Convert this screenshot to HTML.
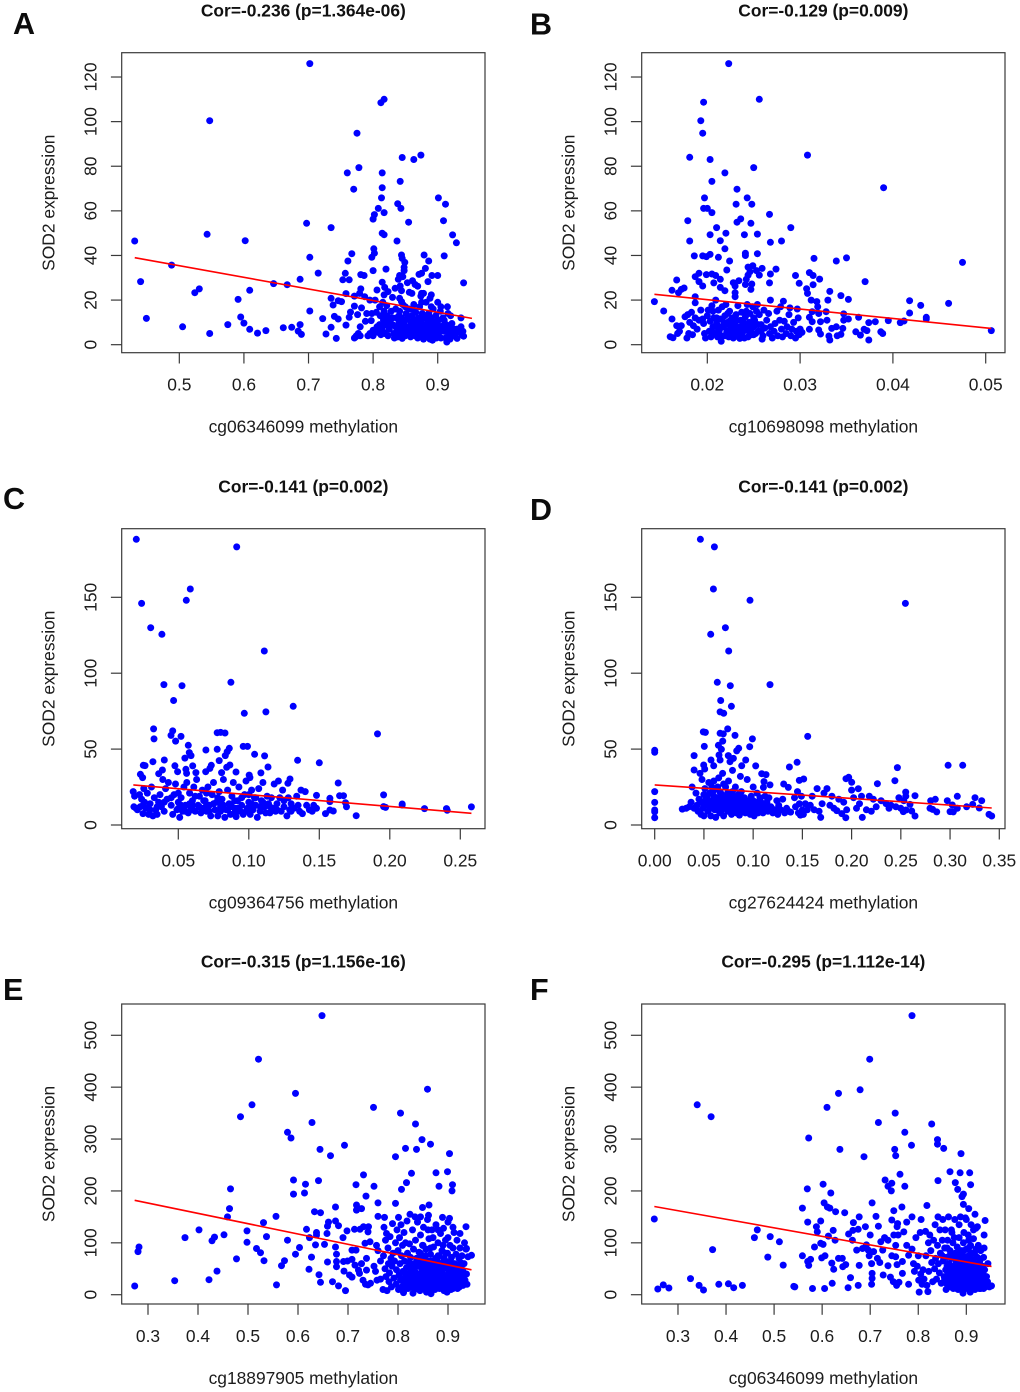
<!DOCTYPE html>
<html lang="en">
<head>
<meta charset="utf-8">
<title>SOD2 expression vs methylation</title>
<style>
html,body{margin:0;padding:0;background:#fff;}
#figure{display:block;width:1020px;height:1392px;font-family:"Liberation Sans",Arial,sans-serif;}
#figure text{fill:#1c1c1c;font-size:17.4px;}
#figure text.title{font-weight:bold;fill:#111;}
#figure text.letter{font-weight:bold;font-size:30.5px;fill:#0c0c0c;}
</style>
</head>
<body>
<svg id="figure" xmlns="http://www.w3.org/2000/svg" width="1020" height="1392" viewBox="0 0 1020 1392"></svg>
<script>
const pointsA=[[.431,46.5],[.44,28.3],[.449,11.8],[.488,35.7],[.505,8],[.524,23.3],[.531,25],[.543,49.5],[.547,100.4],[.547,5],[.575,9],[.591,20.3],[.595,12.4],[.6,9.7],[.602,46.6],[.609,24.4],[.609,6.9],[.621,5.2],[.634,6.3],[.646,27.4],[.661,7.6],[.667,26.9],[.674,7.8],[.684,6.1],[.687,29.3],[.687,9],[.689,4.6],[.697,54.4],[.702,126],[.702,39.2],[.702,15.1],[.715,32.1],[.722,11.7],[.727,4.8],[.735,52.5],[.735,7.8],[.735,20.8],[.738,17.8],[.74,12.7],[.743,2.8],[.746,11.5],[.746,19.7],[.751,19.3],[.753,29.1],[.757,32],[.758,8.8],[.758,22.9],[.76,77],[.761,37.5],[.763,29.1],[.763,12.3],[.765,14.6],[.767,40.8],[.77,69.7],[.771,17.3],[.771,21.8],[.775,94.8],[.778,79.4],
[.801,43],[.802,41],[.798,39.2],[.8,33.2],[.8,56.3],[.802,58.3],[.808,61.1],[.813,65.8],[.814,70.4],[.814,77],[.812,108.5],[.817,110],[.817,59.2],[.814,50],[.817,49.3],[.82,33.9],[.837,46.5],[.838,63.2],[.843,61.1],[.842,73.2],[.845,83.9],[.863,83],[.874,85],[.855,54.9],[.844,40.2],[.845,38.7],[.849,36.9],[.848,34.7],[.848,33.2],[.879,40.2],[.886,37.5],[.881,34.2],[.875,32],[.871,31.5],[.891,31],[.9,31],[.901,65.8],[.912,63],[.909,55.6],[.923,49.2],[.929,45.7],[.91,39.8],[.94,27.7],[.936,12],[.953,8.5],[.885,28.3],
[.781,31.4],[.786,31],[.781,25],[.779,23],[.787,21.5],[.795,20],[.806,24.5],[.814,28],[.818,25.7],[.823,23.8],[.817,22.3],[.83,21.2],[.834,25.3],[.841,31],[.839,29.3],[.846,30.5],[.842,26.3],[.844,24.2],[.853,27.8],[.861,28.7],[.865,27],[.869,26.2],[.856,23.5],[.86,23],[.875,23],[.878,23],[.874,21.8],[.89,22.3],[.888,20.8],[.841,20.8],[.844,19.3],
[.771,3],[.774,4],[.777,5],[.773,3.5],[.78,4],[.776,13.5],[.78,8],[.782,16.5],[.788,10.5],[.79,14],[.792,4],[.795,5],[.797,10.8],[.798,14],[.8,6.5],[.8,4],[.803,20],[.805,14.5],[.806,8],[.808,5.5],[.81,17],[.811,13],[.812,4.5],[.814,7.5],[.815,19],[.816,11],[.817,15],[.818,5],[.82,9],[.821,17.5],[.822,13],[.823,4],[.825,7],[.826,11],[.828,15],[.83,9],[.832,5],[.833,3],[.835,16],[.836,12],[.837,7],[.838,3.5],[.84,10],[.841,15],[.842,5.5],[.843,8],[.844,12],[.845,2.8],[.846,18],[.847,6],[.848,10],[.85,4],[.851,14],[.852,8],[.853,11.5],[.855,5],[.856,16],[.857,7],[.858,3.5],[.859,10],[.86,13],[.861,5],[.862,8.5],[.863,18],[.864,11],[.865,4],[.866,14.5],[.867,7],[.868,9.5],[.869,3],[.87,12],[.871,5.5],[.872,17],[.873,8],[.874,10.5],[.875,4],[.876,14],[.877,6.5],[.878,2.5],[.879,9],[.88,12],[.881,5],[.882,19],[.883,7.5],[.884,3.5],[.885,10],[.886,14],[.887,6],[.888,2.5],[.889,8.5],[.89,12],[.891,4.5],[.892,2],[.893,16],[.894,7],[.895,10],[.896,5],[.897,13],[.898,3],[.899,8],[.9,19],[.901,11],[.902,5.5],[.904,15],[.905,3],[.906,8],[.908,12],[.91,6],[.912,3],[.913,9],[.914,1.2],[.915,17],[.916,14],[.917,5],[.919,2.5],[.92,8],[.922,9.5],[.925,4],[.928,5],[.93,2.8],[.933,6.5],[.936,8],[.938,4.5],[.94,3.8],[.939,6],
[.81,9],[.815,6],[.82,13],[.825,10],[.83,12],[.835,8],[.84,6],[.845,9],[.85,11],[.855,8],[.86,7],[.865,9],[.87,7],[.875,9],[.88,7],[.885,6],[.89,8],[.895,7],[.9,9],[.905,6],[.91,9],[.915,7],[.92,5],[.925,7],[.93,7],[.85,7],[.84,13],[.86,10],[.87,4],[.88,4],[.89,10],[.9,5],[.91,11],[.86,16],[.875,19],[.89,17],[.905,17],[.92,13],[.85,17]];
const pointsB=[[.0143,19.3],[.0153,15.1],[.0162,11.5],[.016,3.6],[.0163,3.1],[.0162,24.4],[.0167,29],[.0169,23.3],[.0172,24.8],[.0175,25.4],[.0179,55.6],[.0181,84],[.0181,46.5],[.0186,39.8],[.0187,30.5],[.0187,21.5],[.0187,18.8],[.0191,32],[.0191,28.3],[.0193,100.4],[.0195,94.8],[.0196,108.7],[.0197,65.8],[.0196,61.1],[.02,61.1],[.0195,26.3],[.0195,39.8],[.0199,39.5],[.0199,31.4],[.0203,40.5],[.0203,49.3],[.0203,83],[.0205,73.2],[.0205,59.2],[.0205,31.7],[.0209,31],[.0207,27.7],[.021,52.5],[.0214,46.6],[.0212,39.2],[.0214,29.3],[.0214,25.7],[.0219,77],[.022,50],[.0219,43],[.0221,33.5],[.0223,126],[.0219,24.2],[.0224,37.5],[.0232,69.7],[.0231,63],[.0232,54.9],[.0236,56.4],[.0228,27.8],[.023,26.3],[.0234,28.7],[.023,23.3],[.023,21.5],[.024,49.3],[.0241,41],[.0241,40],[.0243,65.8],[.0248,63],[.0247,54.4],[.0244,34.8],[.0249,35.4],[.0246,32.7],[.0244,31.2],[.0242,29.3],[.0241,27],[.0248,27.2],[.0247,24.8],[.025,79.4],[.0254,49.6],[.0254,40.8],[.0256,110],[.0253,33.2],[.0256,31.2],[.0259,34.2],[.0267,58.4],[.0268,45.9],[.0274,33.9],[.028,46.5],[.0268,31.7],[.0267,27.7],[.0268,20],[.029,52.5],[.0295,31],[.0299,27.5],[.0308,85],[.0307,25.1],[.0308,23],[.031,32.3],[.0314,31],[.0314,26.9],[.0315,38.7],[.0321,29.4],[.0312,20],[.0318,19.3],[.0332,23.9],[.033,20],[.0344,22],[.0339,37.5],[.035,38.9],[.0352,20.3],[.037,28.3],[.039,70.4],[.0418,19.7],[.0418,14.2],[.043,17.6],[.0436,12.3],[.0436,11.5],[.046,18.5],[.0475,36.9],[.0506,6.3],
[.0363,12.3],[.0352,11.5],[.0347,11],[.0347,13.8],[.036,5.8],[.0365,4.3],[.0369,6.9],[.0372,6.3],[.0374,2.1],[.0374,9.9],[.0381,10.3],[.0387,5.8],[.0389,5],[.0395,10.8],[.0408,9.9],[.0412,10.6],[.0332,2.1],[.0331,3.9],[.0334,7.3],[.0339,8],[.034,4],[.0344,4.6],[.0346,7.3],[.032,6.6],[.0322,4.8],[.031,6.9],[.0329,11],[.0322,10.3],[.0328,14.8],[.032,14],[.0313,14.8],[.0319,17],[.031,12.3],[.0313,10.3],
[.0167,8.5],[.017,6],[.0172,8.5],[.0168,5],[.0176,12.5],[.0178,3],[.0179,13.5],[.018,5],[.0181,10],[.0183,14.5],[.0184,4.5],[.0185,8.5],[.0187,12],[.0189,7],[.0191,11],[.0193,15.5],[.0195,11.5],[.0196,9.5],[.0197,5],[.0198,3],[.02,13],[.0201,15.5],[.0202,6],[.0203,10.5],[.0204,3.5],[.0205,17.5],[.0206,8],[.0207,12],[.0208,5],[.0209,20],[.021,9.5],[.0211,3.5],[.0212,15.5],[.0213,6.5],[.0214,11.5],[.0215,1.5],[.0216,17],[.0217,8],[.0218,4],[.0219,13],[.022,18],[.0221,6],[.0222,10],[.0223,3.5],[.0224,15],[.0225,8],[.0226,5],[.0227,12],[.0228,3],[.0229,6.5],[.023,10],[.0231,13.5],[.0232,4],[.0233,17.5],[.0234,7.5],[.0235,2.8],[.0236,11],[.0237,14.5],[.0238,5.5],[.0239,9],[.024,3],[.0241,12.5],[.0242,6.5],[.0243,18],[.0244,3.5],[.0245,10],[.0246,14],[.0247,7],[.0248,4.5],[.0249,17],[.025,8],[.0251,11],[.0252,5],[.0253,15],[.0254,18],[.0255,6],[.0256,13.5],[.0258,9],[.0259,2.5],[.026,4],[.0261,15.5],[.0262,7.5],[.0264,11],[.0266,14],[.0267,5],[.0268,8],[.027,3],[.0272,6],[.0273,9.5],[.0275,15],[.0276,4],[.0278,11],[.0279,17],[.028,7],[.0281,3.5],[.0282,19.5],[.0283,10.5],[.0285,5],[.0286,8],[.0288,13.5],[.0289,16.5],[.029,4],[.0291,7],[.0293,10],[.0295,3],[.0296,6],[.0297,16],[.0298,12],[.0299,4.5],[.03,7],[.0302,5.5],
[.0205,6],[.021,5],[.0215,8],[.022,9],[.0225,11],[.023,6],[.0235,8],[.024,7],[.0245,6],[.025,4.5],[.0255,9],[.021,12],[.0215,4],[.022,4],[.0225,6],[.023,8],[.0235,5],[.024,9.5],[.0245,8],[.025,12],[.0212,7],[.0218,10],[.0228,9],[.0238,11],[.0248,10],[.0258,6],[.0222,14],[.0232,11],[.0242,15],[.0206,15]];
const pointsC=[[.0202,188.2],[.024,146],[.0304,130],[.0384,125.6],[.0557,148],[.0585,155.5],[.0914,183.2],[.111,114.6],[.0873,94],[.0398,92.5],[.0526,91.8],[.0467,82],[.1315,78.2],[.0968,73.6],[.1121,74.5],[.0325,63.3],[.0328,56.7],[.046,62],[.0448,59],[.0519,58.4],[.0481,55.3],[.0776,60.8],[.08,61],[.0831,60.6],[.1913,60],[.0571,52.5],[.0578,47.7],[.059,45.7],[.0547,44.1],[.0696,49.4],[.0776,49.9],[.0862,50.5],[.0847,48.3],[.0833,45.7],[.096,51.8],[.0991,51.8],[.1041,46.6],[.1112,45.5],[.1346,42.6],[.15,41],[.0401,42.8],[.032,41.7],[.0252,39.3],[.0264,39.1],[.079,42.4],[.0476,39],[.0734,39.3],[.0724,37.3],[.0602,38.9],[.0866,39.5],[.0843,38],[.1136,38.2],[.0387,36.2],[.0361,33.8],[.0231,33.4],[.0247,31.2],[.0495,35.1],[.0554,36.7],[.0559,34],[.0625,34.5],[.0694,35.1],[.0807,34.5],[.0909,34.9],[.1086,34.3],[.1003,32.9],[.1008,31.2],[.1292,30.3],[.1277,27.5],[.1634,27.7],
[.1693,12],[.1686,14.7],[.1644,19.3],[.1672,19.3],[.1575,17.6],[.1575,15.4],[.148,19.5],[.1575,9.9],[.1544,7.5],[.1599,9.2],[.1762,6.1],[.1956,19.8],[.1956,12.1],[.197,11.6],[.2088,13.8],[.2088,13.2],[.2246,10.8],[.2402,10.8],[.2407,9.7],[.2579,11.9],
[.018,22],[.0185,12],[.019,19],[.02,11],[.021,10],[.0225,20],[.023,12],[.024,17],[.025,7.5],[.0255,24],[.026,15],[.027,11],[.028,21],[.029,7],[.03,14],[.031,25],[.032,6],[.033,18],[.034,10],[.035,7],[.036,15],[.037,20],[.038,12],[.039,30],[.04,9],[.041,24],[.042,17],[.043,28],[.045,13],[.046,7],[.047,20],[.048,27],[.049,10],[.05,15],[.051,5],[.052,18],[.053,9],[.054,25],[.055,13],[.056,28],[.057,8],[.058,21],[.059,11],[.06,16],[.061,25],[.062,9],[.063,30],[.064,13],[.065,19],[.066,8],[.067,23],[.068,11],[.069,16],[.07,9],[.071,25],[.072,13],[.073,6],[.074,20],[.075,28],[.076,10],[.077,15],[.078,6],[.079,22],[.08,12],[.081,17],[.082,30],[.083,5],[.084,10],[.085,23],[.086,14],[.087,7],[.088,19],[.089,28],[.09,11],[.091,5.5],[.092,16],[.093,25],[.094,9],[.095,13],[.096,7],[.097,20],[.098,29],[.099,11],[.1,15],[.101,7],[.102,23],[.103,10],[.104,18],[.105,13],[.106,5],[.107,24],[.108,9],[.109,16],[.11,28],[.111,12],[.112,8],[.113,19],[.114,14],[.115,8],[.116,18],[.117,11],[.118,27],[.119,9],[.12,14],[.121,29],[.122,18],[.123,9],[.124,23],[.125,12],[.127,6],[.128,18],[.129,10],[.13,14],[.132,11],[.134,19],[.135,13],[.136,9],[.137,23],[.138,7.5],[.14,22],[.141,13],[.143,10],[.145,9],[.146,13],[.148,11],
[.025,13],[.03,10],[.035,12],[.04,15],[.045,18],[.05,11],[.052,13],[.055,9],[.058,14],[.06,10],[.062,19],[.065,12],[.068,16],[.07,21],[.072,9],[.075,14],[.078,18],[.08,9],[.082,13],[.085,10],[.088,12],[.09,16],[.092,11],[.095,18],[.098,9],[.1,11],[.102,14],[.105,18],[.108,12],[.11,15],[.115,12],[.12,10],[.125,16],[.13,9],[.06,13],[.07,13],[.08,15],[.09,8],[.1,20],[.05,21]];
const pointsD=[[0,49.2],[0,47.9],[0,22],[0,14.9],[0,9.9],[0,8.6],[0,4.8],[.0464,188.2],[.0606,183.2],[.0596,155.5],[.0968,148],[.2546,146],[.0718,130],[.0569,125.6],[.0752,114.6],[.0636,94],[.0768,91.8],[.1171,92.5],[.067,82],[.0779,78.2],[.0664,74.5],[.0701,73.6],[.0741,63.3],[.0494,61.3],[.0515,61],[.0664,60.4],[.0697,60],[.0816,59],[.1554,58.4],[.0992,56.7],[.0691,55.3],[.0504,51.8],[.0647,52.5],[.0677,49.9],[.0965,51.6],[.0853,50.5],[.0833,48.8],[.04,45.7],[.0572,42.8],[.0653,46.1],[.0664,42.8],[.0748,45.7],[.0799,43.9],[.0765,41.7],[.0924,42.8],[.1446,41.3],[.1368,38.2],[.1026,38.9],[.0884,39],[.0599,39],[.0498,39.5],[.04,36.2],[.0508,36.9],[.2465,37.8],[.298,39.3],[.3128,39.3],[.244,29.2],
[.2262,27.2],[.1943,30.5],[.197,31.4],[.2001,28.1],[.2068,23.9],[.1513,30.3],[.1469,29.4],[.131,27],[.1357,24.8],[.1087,33.8],[.1131,33.2],[.111,28.6],[.1171,26.4],[.1104,24.8],[.2549,21.7],[.2644,19.3],[.3074,18.9],[.3253,18],[.3321,16],[.285,16.9],[.2803,16],[.2972,16],
[.2644,5.9],[.261,9.2],[.2552,9.9],[.2525,8.8],[.2593,13.6],[.2796,11],[.2823,10.3],[.2864,8.6],[.3,8.8],[.3033,8.6],[.3023,13.2],[.3074,11],[.3168,12],[.323,13.6],[.3297,11.2],[.3395,7],[.3423,5.9],[.2109,5],[.1941,4.8],[.1686,5],
[.028,10.5],[.032,11],[.035,12],[.037,15],[.038,25],[.04,11],[.042,21],[.043,13],[.044,9],[.045,17],[.046,34],[.047,7],[.048,30],[.049,11],[.05,6],[.051,24],[.052,14],[.053,19],[.054,9],[.055,28],[.056,12],[.057,6],[.058,16],[.059,22],[.06,29],[.061,10],[.062,5],[.063,18],[.064,13],[.065,31],[.066,8],[.067,21],[.068,15],[.069,34],[.07,6],[.071,11],[.072,25],[.073,17],[.074,9],[.075,29],[.076,13],[.077,20],[.078,7],[.079,36],[.08,11],[.081,16],[.082,25],[.083,8],[.084,19],[.085,13],[.086,6.5],[.087,32],[.088,22],[.089,10],[.09,14],[.091,18],[.092,8],[.093,12],[.094,30],[.095,16],[.096,10],[.097,7],[.098,19],[.099,13],[.1,25],[.101,6],[.102,10],[.103,15],[.104,21],[.105,8],[.106,12],[.107,18],[.108,10],[.109,14],[.11,8],[.112,19],[.113,11],[.114,15],[.115,9],[.116,18],[.118,12],[.12,8],[.122,10],[.124,16],[.125,7],[.126,13],[.128,10],[.13,17],[.132,8],[.134,11],[.136,9],[.138,8.5],
[.142,18],[.143,12],[.145,22],[.146,8],[.147,14],[.148,6.5],[.149,19],[.15,10],[.151,7],[.153,14],[.155,10],[.158,13],[.16,19],[.162,10],[.165,24],[.167,9],[.17,14],[.172,21],[.175,24],[.178,13],[.18,19],[.182,11],[.185,9.5],[.187,17],[.19,7.5],[.192,15],[.195,10],[.2,23],[.202,18],[.205,11],[.208,14],[.21,19],[.215,10],[.218,19],[.22,9],[.222,17],[.225,12],[.23,16],[.235,14],[.238,11],[.24,13],[.245,12],[.248,18],[.25,11],[.253,16],[.255,19],
[.05,13],[.052,18],[.055,16],[.056,21],[.058,11],[.06,14],[.06,19],[.062,24],[.063,12],[.065,16],[.066,22],[.068,10],[.068,18],[.07,13],[.07,19],[.072,16],[.073,11],[.074,21],[.075,15],[.076,9],[.077,17],[.078,12],[.079,22],[.08,15],[.081,10],[.082,19],[.083,13],[.085,16],[.086,21],[.087,11],[.088,15],[.09,18],[.09,11],[.092,14],[.093,9],[.095,12],[.096,15],[.098,10],[.1,16],[.102,12],[.104,14],[.106,9],[.108,15],[.11,12],[.048,15],[.05,20],[.054,13],[.058,25],[.064,25],[.07,27]];
const pointsE=[[.2733,16.7],[.28,83],[.282,92],[.3533,27],[.374,110],[.402,125],[.422,29],[.428,104],[.433,111],[.438,45.6],[.452,115.5],[.459,150],[.463,166],[.465,204],[.477,69],[.485,343],[.498,123],[.498,101],[.508,366],[.517,89],[.521,454],[.525,81],[.531,139],[.532,65.5],[.537,112],[.556,151],[.557,19],[.567,56],[.573,65.5],[.579,105],[.579,313],[.586,302],[.591,221],[.591,194],[.595,388],[.595,78],[.603,91],[.613,196],[.615,213],[.617,126],[.622,49],[.623,110],[.627,72.5],[.628,332],[.633,160],[.635,96],[.637,120],[.637,115],[.641,220],[.642,38.5],[.644,280],[.645,158],[.645,24],[.648,538],[.653,97],[.659,63],[.658,118],[.659,132],[.661,140],[.665,268],[.669,25],[.675,169],[.675,142],[.675,92],[.677,78],[.677,54],[.677,64],[.681,133],[.681,17],[.69,110],[.693,288],[.692,45.6],[.695,8],[.698,123],[.691,64],[.699,65],[.703,38],[.708,34],[.708,86],[.708,68],[.713,126],[.716,212],[.717,173],[.717,163],[.716,86],[.714,57],[.721,47.5],[.723,41],[.727,166],[.724,126],[.731,131],[.731,231],[.736,190],[.741,131],[.74,121],[.727,60],[.737,70],[.737,47.5],[.734,99],[.744,102],[.751,361],[.752,209],[.76,177],[.76,151],[.773,149],[.795,266],[.805,350],[.795,176],[.815,282],[.807,203],[.817,216],[.827,234],[.837,280],[.835,329],[.848,299],[.859,396],[.865,290],[.876,235],[.899,237],[.903,272],[.882,209],[.909,212],[.908,200],[.849,168],[.862,173],[.789,137],[.801,149],[.824,155],[.834,150],[.845,150],[.861,153],[.889,149],[.903,147],[.936,131],[.924,118],[.947,76],[.937,89],
[.73,28],[.735,20],[.74,19],[.745,22],[.752,55],[.755,45],[.757,95],[.758,28],[.76,85],[.765,65],[.765,30],[.77,10],[.771,75],[.772,130],[.774,50],[.775,105],[.776,35],[.777,118],[.778,8],[.78,90],[.781,60],[.782,25],[.783,42],[.784,112],[.786,70],[.787,15],[.788,55],[.79,80],[.792,32],[.793,65],[.795,100],[.796,20],[.797,48],[.798,125],[.8,85],[.801,10],[.802,38],[.803,110],[.804,60],[.805,28],[.806,135],[.807,75],[.808,15],[.809,95],[.81,45],[.811,4],[.812,120],[.813,65],[.814,33],[.815,100],[.816,20],[.817,52],[.818,142],[.819,80],[.82,12],[.821,40],[.822,62],[.823,98],[.824,28],[.825,72],[.826,18],[.827,50],[.828,35],[.829,125],[.83,3],[.831,88],[.832,60],[.833,22],[.834,44],[.835,105],[.836,12],[.837,70],[.838,32],[.839,140],[.84,55],[.841,20],[.842,82],[.843,40],[.844,8],[.845,115],[.846,62],[.847,28],[.848,48],[.849,95],[.85,15],[.851,130],[.852,72],[.853,35],[.854,55],[.855,22],[.856,88],[.857,5],[.858,42],[.859,145],[.86,65],[.861,30],[.862,108],[.863,12],[.864,50],[.865,78],[.866,2],[.867,38],[.868,125],[.869,20],[.87,60],[.871,92],[.872,28],[.873,45],[.874,10],[.875,70],[.876,135],[.877,35],[.878,18],[.879,55],[.88,100],[.881,25],[.882,75],[.883,12],[.884,42],[.885,118],[.886,60],[.887,30],[.888,85],[.889,18],[.89,50],[.891,128],[.892,8],[.893,68],[.894,36],[.895,105],[.896,22],[.897,52],[.898,5],[.899,80],[.9,140],[.901,30],[.902,62],[.903,15],[.904,95],[.905,42],[.906,22],[.907,72],[.908,12],[.909,52],[.91,90],[.911,32],[.912,120],[.913,60],[.914,18],[.915,42],[.916,78],[.917,25],[.918,105],[.919,12],[.92,55],[.921,35],[.922,70],[.923,15],[.924,90],[.925,28],[.927,50],[.928,75],[.929,35],[.93,18],[.932,60],[.933,100],[.934,28],[.936,88],[.937,40],[.938,20],[.94,73],
[.812,25],[.818,38],[.823,17],[.829,52],[.834,30],[.839,11],[.843,64],[.846,42],[.85,25],[.853,50],[.856,12],[.859,30],[.862,55],[.864,20],[.866,65],[.869,42],[.871,12],[.874,30],[.876,52],[.878,68],[.88,40],[.882,18],[.884,58],[.886,15],[.888,45],[.89,30],[.892,70],[.894,52],[.896,12],[.898,38],[.9,25],[.902,45],[.904,60],[.906,10],[.908,35],[.91,20],[.912,45],[.915,28],[.918,38],[.921,18],[.924,48],[.926,22],[.93,30],
[.82,30],[.825,42],[.83,14],[.835,60],[.84,35],[.845,80],[.845,18],[.85,60],[.85,35],[.855,75],[.855,42],[.86,15],[.86,48],[.865,30],[.865,90],[.87,18],[.87,45],[.875,60],[.875,20],[.88,75],[.88,32],[.885,48],[.885,22],[.89,62],[.89,38],[.895,80],[.895,14],[.9,52],[.9,12],[.905,32],[.905,65],[.91,42],[.91,12],[.915,55],[.92,28],[.92,42],[.925,62],[.93,45],[.835,25],[.825,58],[.815,40],[.81,15],[.84,70],[.85,95],[.86,125],[.87,110],[.88,125],[.89,95],[.9,110],[.91,130]];
const pointsF=[[.2508,146],[.258,11],[.2695,19],[.281,13],[.326,31],[.34,366],[.344,18],[.353,9],[.369,343],[.372,87],[.385,20],[.405,21],[.416,13.5],[.434,18],[.459,110],[.465,125],[.487,72.5],[.492,112],[.511,102],[.519,57],[.541,16],[.543,15],[.559,167],[.559,75],[.569,204],[.57,140],[.57,64],[.572,302],[.572,56.5],[.576,68],[.58,12],[.584,92],[.588,131],[.59,121],[.597,99],[.597,142],[.599,71],[.602,97],[.602,213],[.604,177],[.605,12],[.606,75],[.61,361],[.611,169],[.613,113],[.616,167],[.618,196],[.62,61],[.621,22],[.623,124],[.624,49],[.627,105],[.628,160],[.634,388],[.634,70],[.637,280],[.642,70],[.647,158],[.649,58],[.643,54],[.654,13.5],[.655,117],[.659,33],[.663,105],[.665,139],[.664,124],[.675,126],[.675,18],[.677,150],[.677,56.5],[.672,86],[.679,395],[.687,266],[.69,131],[.692,96],[.684,89],[.696,86],[.698,75],[.699,454],[.7,115],[.704,177],[.703,60],[.704,41],[.704,31.5],[.703,20],[.707,83],[.712,151],[.717,132],[.717,332],[.715,70],[.72,62],[.722,102],[.727,38],[.73,110],[.731,221],[.737,209],[.737,105],[.737,56],[.742,34],[.744,200],[.745,215],[.745,144],[.726,86],[.745,75],[.749,162],[.749,115],[.752,350],[.751,280],[.753,268],[.748,25],[.755,18],[.76,24],[.757,137],[.756,131],[.758,115],[.753,95],[.753,73],[.756,58],[.762,232],[.766,169],[.767,64],[.767,41],[.77,121],[.772,313],[.772,209],[.776,140],[.776,95],[.78,76],[.78,20],[.786,288],[.787,538],[.787,150],[.787,88],
[.818,172],[.828,329],[.84,299],[.84,290],[.841,220],[.853,282],[.866,237],[.887,235],[.907,235],[.889,272],[.877,216],[.882,203],[.909,212],[.891,189],[.894,194],[.894,174],[.905,166],[.918,155],[.939,143],[.923,131],[.937,115],[.937,90],
[.79,60],[.792,45],[.795,110],[.798,55],[.8,75],[.801,28],[.802,5],[.804,120],[.805,40],[.806,145],[.808,20],[.81,48],[.812,30],[.815,122],[.816,75],[.818,18],[.82,6],[.821,100],[.822,45],[.824,115],[.826,85],[.828,62],[.83,25],[.832,105],[.834,50],[.835,135],[.836,70],[.838,30],[.84,95],[.841,150],[.842,60],[.844,42],[.845,125],[.846,80],[.848,22],[.85,105],[.851,145],[.852,65],[.854,35],[.855,90],[.856,125],[.857,48],[.858,10],[.859,72],[.86,20],[.861,105],[.862,40],[.863,150],[.864,60],[.865,30],[.866,85],[.867,15],[.868,50],[.869,125],[.87,70],[.871,35],[.872,100],[.873,12],[.874,55],[.875,25],[.876,145],[.877,80],[.878,42],[.879,18],[.88,65],[.881,92],[.882,30],[.883,10],[.884,50],[.885,110],[.886,72],[.887,22],[.888,150],[.889,40],[.89,85],[.891,15],[.892,58],[.893,3],[.894,100],[.895,32],[.896,70],[.897,48],[.898,148],[.899,20],[.9,88],[.901,12],[.902,60],[.903,38],[.904,115],[.905,75],[.906,25],[.907,52],[.908,5],[.909,95],[.91,135],[.911,35],[.912,68],[.913,15],[.914,48],[.915,108],[.916,28],[.917,80],[.918,10],[.919,58],[.92,128],[.921,40],[.922,18],[.923,72],[.924,32],[.925,95],[.926,50],[.927,12],[.928,65],[.929,25],[.93,85],[.932,40],[.933,15],[.934,55],[.935,30],[.936,72],[.937,22],[.938,48],[.94,15],[.942,35],[.944,25],[.945,60],[.948,15],[.9525,17],
[.868,20],[.871,52],[.874,14],[.877,35],[.879,62],[.881,20],[.883,42],[.885,28],[.887,58],[.889,10],[.891,32],[.893,75],[.895,18],[.897,60],[.899,42],[.901,28],[.903,72],[.905,12],[.907,40],[.909,62],[.911,20],[.913,50],[.915,32],[.917,12],[.919,42],[.921,28],[.923,55],[.925,15],[.927,38],[.93,22],[.933,32],[.936,12],[.939,28],
[.87,28],[.875,42],[.875,70],[.88,12],[.88,52],[.885,18],[.885,80],[.89,48],[.89,68],[.895,25],[.895,85],[.9,15],[.9,35],[.9,70],[.905,50],[.905,90],[.91,28],[.91,45],[.91,80],[.915,15],[.915,62],[.92,32],[.92,50],[.92,88],[.925,20],[.925,42],[.93,55],[.93,12],[.935,40],[.94,25],[.865,45],[.865,75],[.86,55],[.855,30],[.85,75],[.86,90],[.87,120],[.875,110],[.885,135],[.895,120],[.905,105],[.915,125],[.9,145]];

const regressionA=[[.431,39],[.953,11.8]];
const regressionB=[[.0143,22.6],[.0506,7.3]];
const regressionC=[[.0181,26.4],[.2579,7.7]];
const regressionD=[[0,26.4],[.3423,11.2]];
const regressionE=[[.2733,182],[.947,48]];
const regressionF=[[.2508,170],[.9525,54.5]];

const xTicksA=[.5,.6,.7,.8,.9];
const xTickLabelsA=["0.5","0.6","0.7","0.8","0.9"];
const xTicksB=[.02,.03,.04,.05];
const xTickLabelsB=["0.02","0.03","0.04","0.05"];
const xTicksC=[.05,.1,.15,.2,.25];
const xTickLabelsC=["0.05","0.10","0.15","0.20","0.25"];
const xTicksD=[0,.05,.1,.15,.2,.25,.3,.35];
const xTickLabelsD=["0.00","0.05","0.10","0.15","0.20","0.25","0.30","0.35"];
const xTicksE=[.3,.4,.5,.6,.7,.8,.9];
const xTickLabelsE=["0.3","0.4","0.5","0.6","0.7","0.8","0.9"];
const xTicksF=[.3,.4,.5,.6,.7,.8,.9];
const xTickLabelsF=["0.3","0.4","0.5","0.6","0.7","0.8","0.9"];
const yTicksAB=[0,20,40,60,80,100,120];
const yTicksCD=[0,50,100,150];
const yTicksEF=[0,100,200,300,400,500];

const panels=[
 {id:"a",letter:"A",lx:13,ly:34,title:"Cor=-0.236 (p=1.364e-06)",xTitle:"cg06346099 methylation",left:121.7,top:52.7,xDomain:[.4108,.9732],yDomain:[-3.59,130.9],points:pointsA,reg:regressionA,xTicks:xTicksA,xLabels:xTickLabelsA,yTicks:yTicksAB},
 {id:"b",letter:"B",lx:530,ly:34.5,title:"Cor=-0.129 (p=0.009)",xTitle:"cg10698098 methylation",left:641.7,top:52.7,xDomain:[.01293,.05208],yDomain:[-3.59,130.9],points:pointsB,reg:regressionB,xTicks:xTicksB,xLabels:xTickLabelsB,yTicks:yTicksAB},
 {id:"c",letter:"C",lx:3,ly:509,title:"Cor=-0.141 (p=0.002)",xTitle:"cg09364756 methylation",left:121.7,top:528.7,xDomain:[.00986,.26752],yDomain:[-2.44,195.2],points:pointsC,reg:regressionC,xTicks:xTicksC,xLabels:xTickLabelsC,yTicks:yTicksCD},
 {id:"d",letter:"D",lx:530,ly:520,title:"Cor=-0.141 (p=0.002)",xTitle:"cg27624424 methylation",left:641.7,top:528.7,xDomain:[-.0132,.3558],yDomain:[-2.44,195.2],points:pointsD,reg:regressionD,xTicks:xTicksD,xLabels:xTickLabelsD,yTicks:yTicksCD},
 {id:"e",letter:"E",lx:3,ly:1000,title:"Cor=-0.315 (p=1.156e-16)",xTitle:"cg18897905 methylation",left:121.7,top:1004,xDomain:[.2474,.974],yDomain:[-17.9,560.3],points:pointsE,reg:regressionE,xTicks:xTicksE,xLabels:xTickLabelsE,yTicks:yTicksEF},
 {id:"f",letter:"F",lx:530,ly:1000,title:"Cor=-0.295 (p=1.112e-14)",xTitle:"cg06346099 methylation",left:641.7,top:1004,xDomain:[.2245,.9805],yDomain:[-17.9,560.3],points:pointsF,reg:regressionF,xTicks:xTicksF,xLabels:xTickLabelsF,yTicks:yTicksEF}
];

const NS="http://www.w3.org/2000/svg";
const PLOT_W=363.3, PLOT_H=300, TICK=10.8, AXIS="#3a3a3a";
const root=document.getElementById("figure");

function make(parent,tag,attrs,text){
  const el=document.createElementNS(NS,tag);
  for(const k in attrs){el.setAttribute(k,attrs[k]);}
  if(text!==undefined){el.textContent=text;}
  parent.appendChild(el);
  return el;
}

function drawPanel(p){
  const g=make(root,"g",{});
  
  
  const x=v=>p.left+(v-p.xDomain[0])/(p.xDomain[1]-p.xDomain[0])*PLOT_W;
  const y=v=>p.top+PLOT_H-(v-p.yDomain[0])/(p.yDomain[1]-p.yDomain[0])*PLOT_H;
  const cx=p.left+PLOT_W/2, bottom=p.top+PLOT_H;

  const letter=make(g,"text",{x:p.lx,y:p.ly,class:"letter"},p.letter);
  
  

  const title=make(g,"text",{x:cx,y:p.top-36.4,"text-anchor":"middle",class:"title"},p.title);
  
  

  const marks=make(g,"g",{fill:"#0000ff"});
  
  
  p.points.forEach(pt=>{
    const c=make(marks,"circle",{cx:x(pt[0]).toFixed(1),cy:y(pt[1]).toFixed(1),r:3.5});
    
    
  });

  const line=make(g,"line",{x1:x(p.reg[0][0]),y1:y(p.reg[0][1]),x2:x(p.reg[1][0]),y2:y(p.reg[1][1]),stroke:"#ff0000","stroke-width":1.6});
  
  

  const box=make(g,"rect",{x:p.left,y:p.top,width:PLOT_W,height:PLOT_H,fill:"none",stroke:AXIS,"stroke-width":1.2});
  
  

  const xAxis=make(g,"g",{});
  
  
  p.xTicks.forEach((t,i)=>{
    const px=x(t);
    const tick=make(xAxis,"line",{x1:px,y1:bottom,x2:px,y2:bottom+TICK,stroke:AXIS,"stroke-width":1.2});
    
    
    const lab=make(xAxis,"text",{x:px,y:bottom+38,"text-anchor":"middle"},p.xLabels[i]);
    
    
  });
  const xt=make(xAxis,"text",{x:cx,y:bottom+80,"text-anchor":"middle"},p.xTitle);
  
  

  const yAxis=make(g,"g",{});
  
  
  p.yTicks.forEach(t=>{
    const py=y(t), bx=p.left-25;
    const tick=make(yAxis,"line",{x1:p.left,y1:py,x2:p.left-TICK,y2:py,stroke:AXIS,"stroke-width":1.2});
    
    
    const lab=make(yAxis,"text",{x:bx,y:py,"text-anchor":"middle",transform:"rotate(-90 "+bx+" "+py+")"},String(t));
    
    
  });
  const tx=p.left-67, ty=p.top+PLOT_H/2;
  const yt=make(yAxis,"text",{x:tx,y:ty,"text-anchor":"middle",transform:"rotate(-90 "+tx+" "+ty+")"},"SOD2 expression");
  
  
}

panels.forEach(drawPanel);
</script>
</body>
</html>
